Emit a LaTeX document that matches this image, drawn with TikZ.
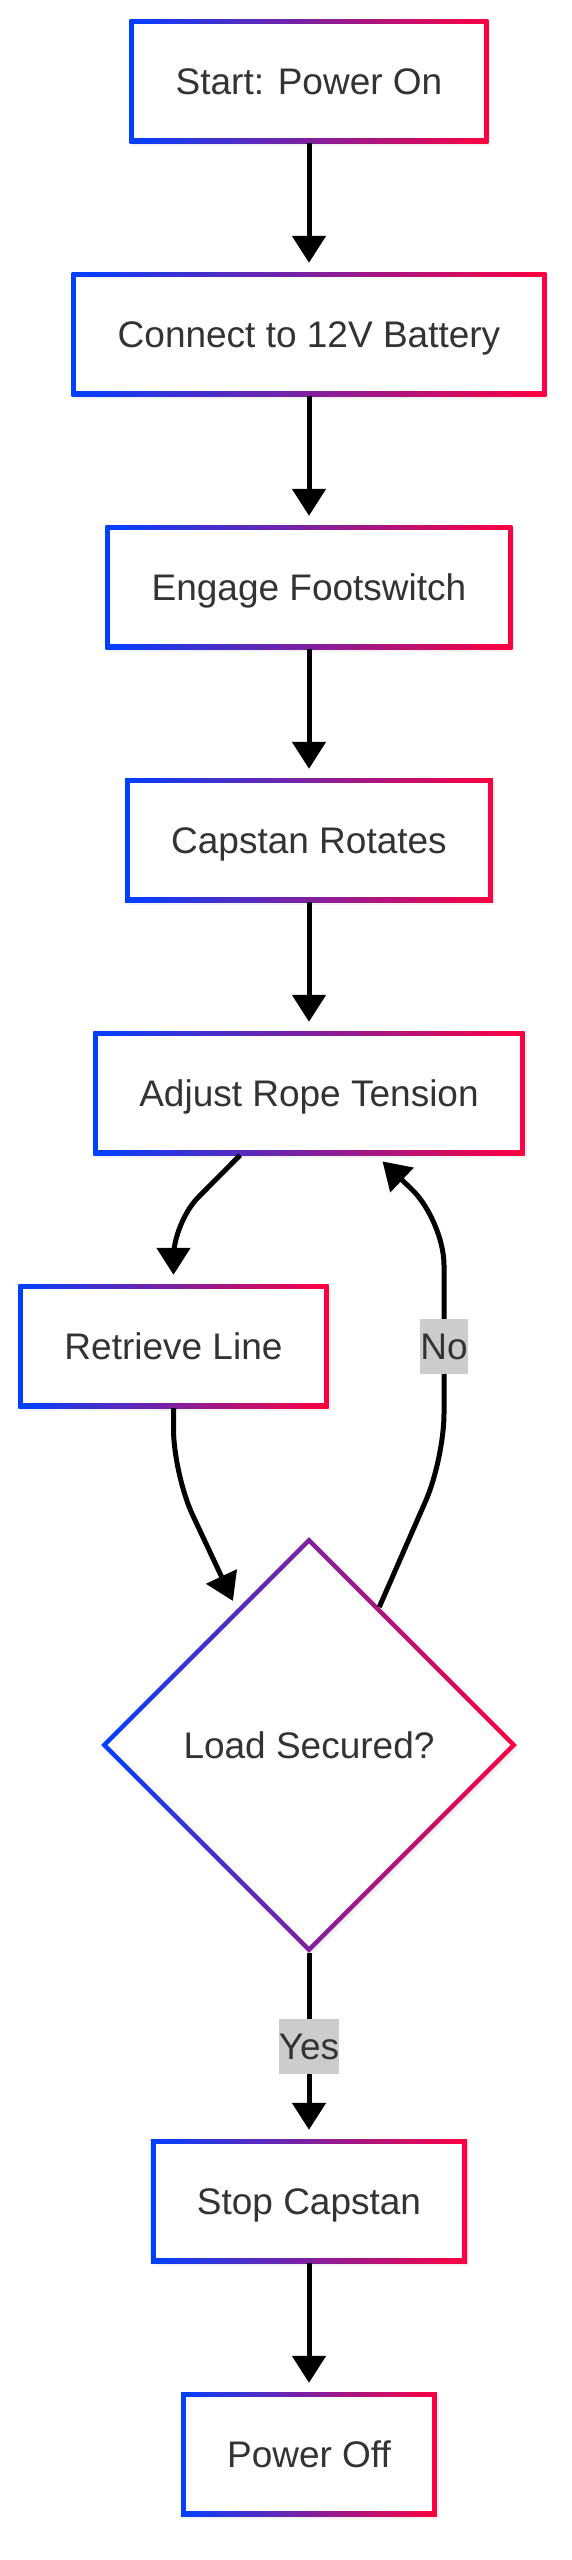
\documentclass[tikz,border=0pt]{standalone}
\usepackage{fontspec}
\setmainfont{Liberation Sans}
\usetikzlibrary{shapes.geometric, arrows.meta, shadows}
\definecolor{edgeblue}{RGB}{0, 64, 255}
\definecolor{edgered}{RGB}{255, 0, 64}
\definecolor{textgray}{RGB}{51, 51, 51}
\definecolor{labelgray}{RGB}{204, 204, 204}

\begin{document}
\begin{tikzpicture}[
    x=1pt, y=-1pt,
    box/.style={rectangle, minimum height=124pt, inner xsep=46pt, text height=26pt, text depth=0pt, text=textgray, font=\fontsize{37}{44}\selectfont, left color=edgeblue, right color=edgered, drop shadow={opacity=0.1, shadow xshift=2pt, shadow yshift=-3pt}, path picture={\fill[white] ([shift={(4.7pt,-4.7pt)}]path picture bounding box.north west) rectangle ([shift={(-4.7pt,4.7pt)}]path picture bounding box.south east);}},
    decision/.style={diamond, minimum width=416pt, minimum height=416pt, inner sep=0pt, text height=26pt, text depth=0pt, text=textgray, font=\fontsize{37}{44}\selectfont, left color=edgeblue, right color=edgered, drop shadow={opacity=0.1, shadow xshift=2pt, shadow yshift=-3pt}, path picture={\fill[white] ([yshift=-6.6pt]path picture bounding box.north) -- ([xshift=-6.6pt]path picture bounding box.east) -- ([yshift=6.6pt]path picture bounding box.south) -- ([xshift=6.6pt]path picture bounding box.west) -- cycle;}},
    arrow/.style={-{Triangle[width=33pt, length=27pt]}, line width=5pt, black, shorten >=9pt},
    edgelabel/.style={sharp corners, fill=labelgray, text=textgray, font=\fontsize{37}{44}\selectfont, minimum height=55pt, text height=26pt, text depth=0pt, inner xsep=0pt}
]

% Background
\fill[white] (0,0) rectangle (571,2560);

% Main steps
\node[box] (poweron) at (309,81) {Start: Power On};
\node[box] (battery) at (309,334) {Connect to 12V Battery};
\node[box] (footswitch) at (309,587) {Engage Footswitch};
\node[box] (capstan) at (309,840) {Capstan Rotates};
\node[box] (tension) at (309,1093) {Adjust Rope Tension};
\node[box] (retrieve) at (173.5,1346) {Retrieve Line};

% Decision
\node[decision] (secured) at (309,1745) {Load Secured?};

% End steps
\node[box] (stopcap) at (309,2201) {Stop Capstan};
\node[box] (poweroff) at (309,2454) {Power Off};

% Straight connections
\draw[arrow] (poweron) -- (battery);
\draw[arrow] (battery) -- (footswitch);
\draw[arrow] (footswitch) -- (capstan);
\draw[arrow] (capstan) -- (tension);

% Loop through retrieve and decision
\draw[arrow, rounded corners=35pt] ([xshift=-69pt]tension.south) -- ([yshift=-67pt]tension.south -| retrieve.north) -- (retrieve.north);
\draw[arrow, rounded corners=45pt] (retrieve.south) -- ([yshift=-66pt]retrieve.south) -- (secured.118);
\draw[arrow, rounded corners=45pt] (secured.63) -- (444,1459) -- node[edgelabel, pos=.47] {No} (444,1220) -- ([xshift=67pt]tension.south);

% Exit
\draw[arrow] (secured) -- node[edgelabel] {Yes} (stopcap);
\draw[arrow] (stopcap) -- (poweroff);

\end{tikzpicture}
\end{document}
